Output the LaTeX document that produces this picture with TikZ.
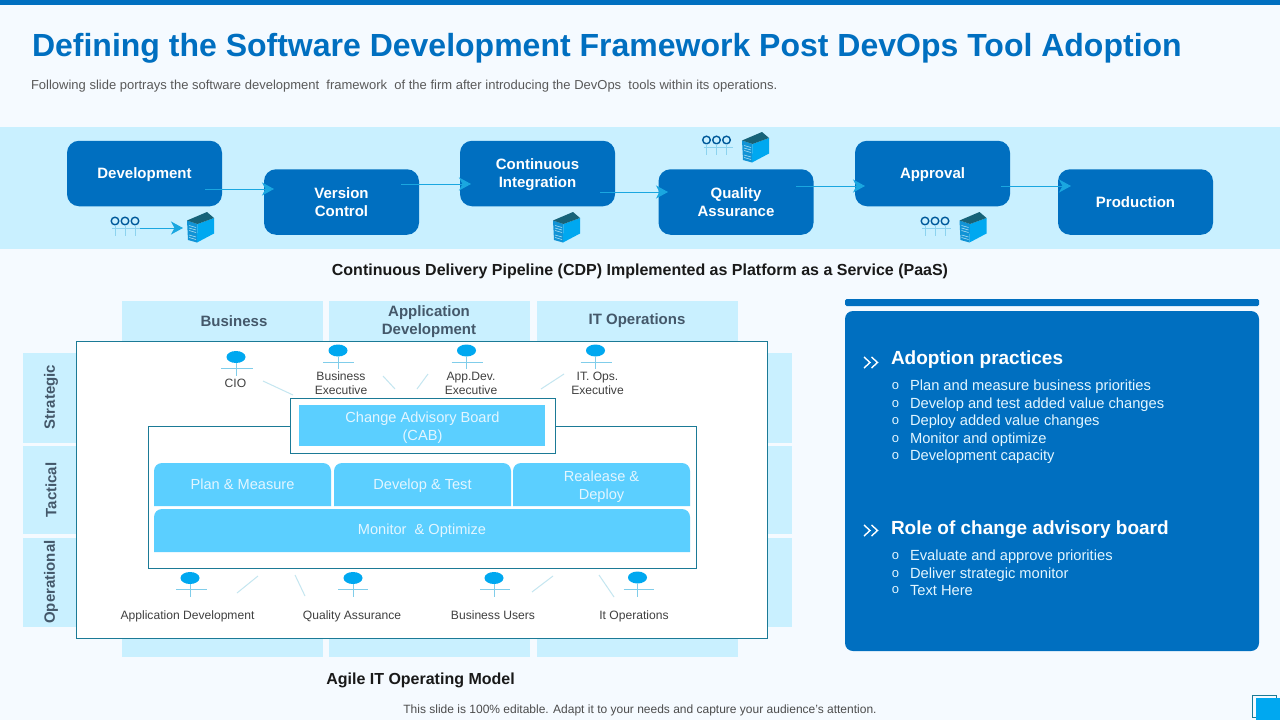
\documentclass[tikz,border=0pt]{standalone}
\usepackage{fontspec}
\setmainfont{Liberation Sans}
\usetikzlibrary{arrows.meta}
\definecolor{pagebg}{HTML}{F5FAFF}
\definecolor{deepblue}{HTML}{006FC0}
\definecolor{paleblue}{HTML}{C9F0FF}
\definecolor{midblue}{HTML}{5BCFFF}
\definecolor{flowblue}{HTML}{1AA7E0}
\definecolor{headblue}{HTML}{00A8F0}
\definecolor{framec}{HTML}{1B7A96}
\definecolor{slatec}{HTML}{44586A}
\definecolor{tiec}{HTML}{C4E6F0}
\definecolor{bodyc}{HTML}{E3F6FF}
\newcommand{\fs}[2]{\fontsize{#1}{#2}\selectfont}
\newcommand{\rbox}[7][]{%
  \pgfmathsetmacro\rbw{#5-#3}\pgfmathsetmacro\rbh{#6-#4}%
  \pgfmathsetmacro\rbx{(#5+#3)/2}\pgfmathsetmacro\rby{(#6+#4)/2}%
  \node[plainbox,minimum width=\rbw pt,minimum height=\rbh pt,#1] (#2) at (\rbx,\rby) {#7};}
\newcommand{\actor}[5]{% x y halfwidth-left halfwidth-right bottom
  \fill[headblue] (#1,#2) ellipse [x radius=9.5pt,y radius=6pt];
  \draw[actorline] (#1-#3,#2+11.5) -- (#1+#4,#2+11.5);
  \draw[actorline] (#1,#2+6) -- (#1,#2+#5);}
\newcommand{\crowd}[2]{%
  \foreach \dx in {0,10,20}{\draw[crowdhead] (#1+\dx,#2) circle [radius=3.8pt];
    \draw[crowdline] (#1+\dx,#2+3.8) -- (#1+\dx,#2+15);}
  \draw[crowdline] (#1-3,#2+7.5) -- (#1+26,#2+7.5);}
\tikzset{
  x=1pt,y=-1pt,
  plainbox/.style={inner sep=0pt,outer sep=0pt,align=center},
  procbox/.style={plainbox,fill=deepblue,rounded corners=12pt,minimum width=155pt,minimum height=65.5pt},
  proctext/.style={plainbox,text=white,font=\bfseries\fs{15}{18}},
  flow/.style={draw=flowblue,line width=0.9pt,-{Stealth[length=12pt,width=13pt,inset=3.5pt]}},
  actorline/.style={draw=flowblue!40!tiec,line width=0.8pt},
  crowdline/.style={draw=flowblue!50!white,line width=0.7pt},
  crowdhead/.style={draw=deepblue!80!black,line width=1.4pt},
  tie/.style={draw=tiec,line width=1pt},
  band/.style={plainbox,fill=paleblue},
  frame/.style={plainbox,fill=white,draw=framec,line width=0.9pt},
  midbox/.style={plainbox,fill=midblue,text=bodyc,font=\fs{14.6}{18}},
  collabel/.style={plainbox,text=slatec,font=\bfseries\fs{15}{18}},
  rowlabel/.style={plainbox,text=slatec,font=\bfseries\fs{15}{18},rotate=90},
  actext/.style={plainbox,text=black!75,font=\fs{12.1}{14}},
  paneltitle/.style={plainbox,anchor=west,text=white,font=\bfseries\fs{19}{24}},
  panelitem/.style={plainbox,anchor=west,text=bodyc,font=\fs{14.7}{18}},
  panelbullet/.style={plainbox,text=bodyc,font=\fs{13}{14}},
  chevron/.style={draw=white,line width=1.4pt},
  server/.pic={
    \fill[flowblue!65!deepblue] (0,8.5) -- (10.5,12) -- (10,30.5) -- (1,28) -- cycle;
    \foreach \yy in {14.5,17,19.5,24,26.5}{\draw[white!65!flowblue,line width=0.6pt] (2,\yy-1) -- (9,\yy+1);}
    \fill[headblue] (10.5,12) -- (27,6) -- (27,21.5) -- (10,30.5) -- cycle;
    \fill[framec!80!black] (0,8.5) -- (20,0) -- (27,6) -- (10.5,12) -- cycle;
  }
}
\begin{document}
\begin{tikzpicture}
\useasboundingbox (0,0) rectangle (1280,720);
\fill[pagebg] (0,0) rectangle (1280,720);
\fill[deepblue] (0,0) rectangle (1280,5);
\node[plainbox,anchor=west,text=deepblue,font=\bfseries\fs{32}{38}] (title) at (32,48.5) {Defining the Software Development Framework Post DevOps Tool Adoption};
\node[plainbox,anchor=west,text=black!65,font=\fs{13}{15}] (subtitle) at (31,86) {Following slide portrays the software development\ \ framework\ \ of the firm after introducing the DevOps\ \ tools within its operations.};
% process band
\fill[paleblue] (0,127) rectangle (1280,249);
\node[procbox,label={[proctext,yshift=-1.5pt]center:Development}] (dev) at (144.5,173.5) {};
\node[procbox,label={[proctext]center:Version\\Control}] (vc) at (341.5,202) {};
\node[procbox,label={[proctext,yshift=-1.5pt]center:Continuous\\Integration}] (ci) at (537.5,173.5) {};
\node[procbox,label={[proctext]center:Quality\\Assurance}] (qa) at (736,202) {};
\node[procbox,label={[proctext,yshift=-1.5pt]center:Approval}] (appr) at (932.5,173.5) {};
\node[procbox,label={[proctext]center:Production}] (prod) at (1135.5,202) {};
\coordinate (f1a) at (205,189); \coordinate (f1b) at (274,189);
\coordinate (f2a) at (401,184); \coordinate (f2b) at (471,184);
\coordinate (f3a) at (600,192); \coordinate (f3b) at (668,192);
\coordinate (f4a) at (796,186); \coordinate (f4b) at (865,186);
\coordinate (f5a) at (1001,186); \coordinate (f5b) at (1071,186);
\draw[flow] (f1a) -- (f1b);
\draw[flow] (f2a) -- (f2b);
\draw[flow] (f3a) -- (f3b);
\draw[flow] (f4a) -- (f4b);
\draw[flow] (f5a) -- (f5b);
\crowd{115}{221}
\coordinate (c1a) at (140,228); \coordinate (c1b) at (183,228);
\draw[flow] (c1a) -- (c1b);
\crowd{706.5}{140}
\crowd{925}{221}
\pic at (187,212) {server};
\pic at (553,212) {server};
\pic at (742,132) {server};
\pic at (959.5,212) {server};
\node[plainbox,text=black!90,font=\bfseries\fs{16}{18}] (cdp) at (640,271) {Continuous Delivery Pipeline (CDP) Implemented as Platform as a Service (PaaS)};
% matrix
\rbox[band]{colA}{122}{301}{323}{657}{}
\rbox[band]{colB}{329}{301}{530}{657}{}
\rbox[band]{colC}{537}{301}{738}{657}{}
\rbox[band]{rowA}{23}{353}{792}{443}{}
\rbox[band]{rowB}{23}{446}{792}{534}{}
\rbox[band]{rowC}{23}{538}{792}{627}{}
\rbox[frame]{outer}{76.5}{341.5}{767}{638.5}{}
\node[collabel] (lA) at (234,321) {Business};
\node[collabel] (lB) at (429,322) {Application\\Development};
\node[collabel] (lC) at (637,321) {IT Operations};
\node[rowlabel] (rA) at (51,397) {Strategic};
\node[rowlabel] (rB) at (51,490) {Tactical};
\node[rowlabel] (rC) at (51,582) {Operational};
\rbox[frame]{inner}{148.5}{426.5}{696.5}{568.5}{}
\rbox[frame]{cabout}{290.5}{398.5}{555.5}{453.5}{}
\rbox[midbox]{cab}{299}{405}{545}{446}{}
\node[midbox,fill=none] (cabt) at (422.5,427.5) {Change Advisory Board\\(CAB)};
\fill[midblue,rounded corners=8pt] (154,506) -- (154,463) -- (331,463) -- (331,506) [sharp corners] -- (331,506) -- (154,506) -- cycle;
\fill[midblue,rounded corners=8pt] (334,506) -- (334,463) -- (511,463) -- (511,506) [sharp corners] -- (511,506) -- (334,506) -- cycle;
\fill[midblue,rounded corners=8pt] (513,506) -- (513,463) -- (690,463) -- (690,506) [sharp corners] -- (690,506) -- (513,506) -- cycle;
\fill[midblue,rounded corners=8pt] (154,552) -- (154,509) -- (690,509) -- (690,552) [sharp corners] -- (690,552) -- (154,552) -- cycle;
\node[midbox,fill=none] (pm) at (242.5,486) {\strut Plan \& Measure};
\node[midbox,fill=none] (dt) at (422.5,486) {\strut Develop \& Test};
\node[midbox,fill=none] (rd) at (601.5,487) {Realease \&\\Deploy};
\node[midbox,fill=none] (mo) at (422,531) {Monitor\ \ \& Optimize};
% actors
\actor{236}{357}{15}{17}{19}
\actor{338}{350.5}{15}{16}{18}
\actor{466.5}{350.5}{15}{16}{18}
\actor{595.5}{350.5}{15}{16}{18}
\actor{190}{578}{14}{17}{19}
\actor{353}{578}{15}{15}{19}
\actor{494}{578}{14}{16}{19}
\actor{637.5}{577.5}{14}{16}{19}
\node[actext] (t1) at (235.5,383) {CIO};
\node[actext] (t2) at (341,383) {Business\\Executive};
\node[actext] (t3) at (471,383) {App.Dev.\\Executive};
\node[actext] (t4) at (597.5,383) {IT. Ops.\\Executive};
\node[actext] (t5) at (187.5,617) {\strut Application Development};
\node[actext] (t6) at (352,617) {\strut Quality Assurance};
\node[actext] (t7) at (493,617) {\strut Business Users};
\node[actext] (t8) at (634,617) {\strut It Operations};
\draw[tie] (263,381) -- (293,395);
\draw[tie] (383,376) -- (395,389);
\draw[tie] (428,374) -- (417,389);
\draw[tie] (564,374) -- (541,389);
\draw[tie] (237,593) -- (258,576);
\draw[tie] (295,575) -- (305,596);
\draw[tie] (532,592) -- (553,576);
\draw[tie] (599,575) -- (614,597);
\node[plainbox,text=black!90,font=\bfseries\fs{16}{18}] (agile) at (420.5,680) {Agile IT Operating Model};
% right panel
\fill[deepblue,rounded corners=1.5pt] (845,299) rectangle (1259,306);
\rbox[fill=deepblue,rounded corners=8pt]{panel}{845}{311}{1259}{651}{}
\draw[chevron] (864,357) -- (870,362.5) -- (864,368) (871.5,357) -- (877.5,362.5) -- (871.5,368);
\node[paneltitle] (h1) at (891,360) {Adoption practices};
\foreach \yy/\tt in {385/Plan and measure business priorities,403/Develop and test added value changes,420/Deploy added value changes,438/Monitor and optimize,455/Development capacity}{
  \node[panelbullet] at (895.5,\yy+1) {o};
  \node[panelitem] at (910,\yy+1.5) {\tt};
}
\draw[chevron] (864,525) -- (870,530.5) -- (864,536) (871.5,525) -- (877.5,530.5) -- (871.5,536);
\node[paneltitle] (h2) at (891,530) {Role of change advisory board};
\foreach \yy/\tt in {555/Evaluate and approve priorities,573/Deliver strategic monitor,589.5/Text Here}{
  \node[panelbullet] at (895.5,\yy+1) {o};
  \node[panelitem] at (910,\yy+1.5) {\tt};
}
\node[plainbox,text=black!70,font=\fs{12}{14}] (foot) at (640,710.5) {This slide is 100\% editable. Adapt it to your needs and capture your audience's attention.};
\draw[framec,line width=0.7pt] (1252.5,695.5) rectangle (1276.5,717);
\fill[headblue] (1256,698) rectangle (1280,720);
\end{tikzpicture}
\end{document}
